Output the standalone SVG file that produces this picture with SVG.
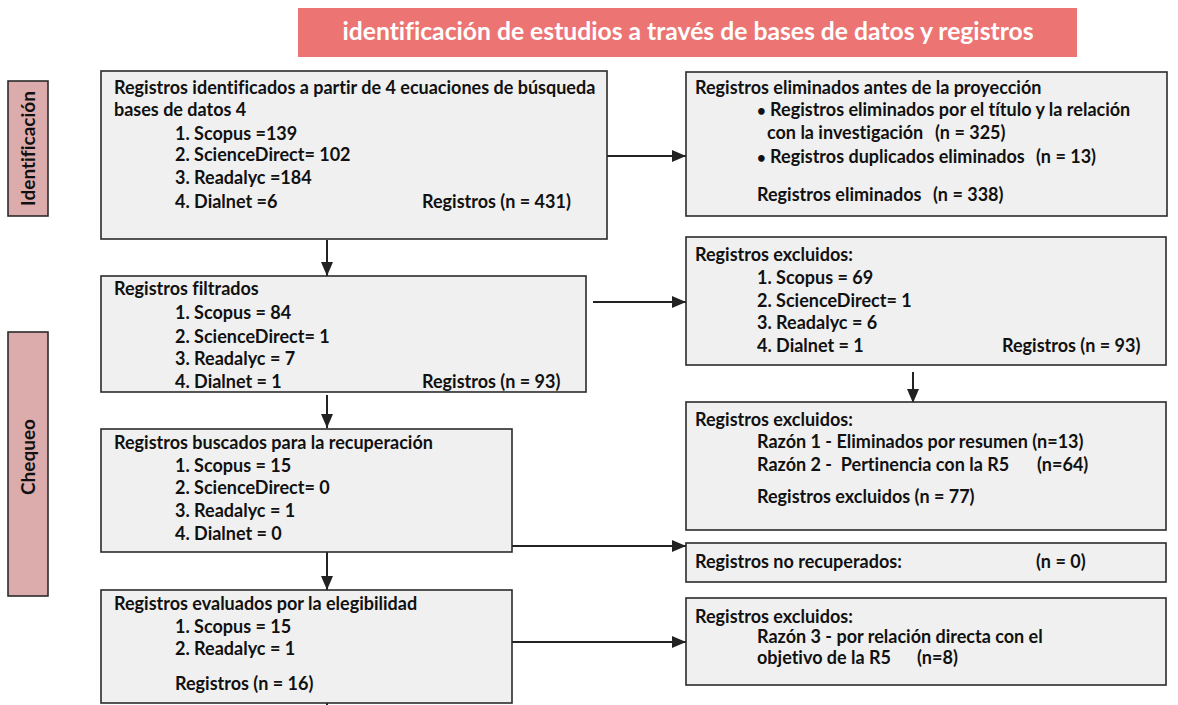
<svg xmlns="http://www.w3.org/2000/svg" width="1178" height="705" viewBox="0 0 1178 705">
<style>
.box{fill:#f0f0f0;stroke:#2b2b2b;stroke-width:1.6}
.t{font-family:Lato,"Open Sans","Liberation Sans",sans-serif;font-weight:700;font-size:18px;fill:#111;font-variant-ligatures:none}
.bl{font-size:15px}
.lab{fill:#dcabab;stroke:#2b2b2b;stroke-width:1.6}
.lt{font-family:Lato,"Open Sans","Liberation Sans",sans-serif;font-weight:700;font-size:19px;fill:#111;font-variant-ligatures:none}
.c{stroke:#222;stroke-width:2;fill:none}
</style>
<defs>
<marker id="a" viewBox="0 0 14 12" refX="14" refY="6" markerWidth="14" markerHeight="12" markerUnits="userSpaceOnUse" orient="auto">
<path d="M0,0 L14,6 L0,12 z" fill="#222"/>
</marker>
</defs>
<g id="title">
<rect x="298" y="8" width="779" height="49" fill="#ec7574"/>
<text x="688" y="40" text-anchor="middle" style="font-family:Lato,'Open Sans','Liberation Sans',sans-serif;font-weight:700;font-size:24.7px;fill:#fff;font-variant-ligatures:none">identificación de estudios a través de bases de datos y registros</text>
</g>
<g id="lab-identificacion">
<rect class="lab" x="8" y="81" width="40" height="135"/>
<text class="lt" transform="translate(34.5,148.5) rotate(-90)" text-anchor="middle">Identificación</text>
</g>
<g id="lab-chequeo">
<rect class="lab" x="8" y="332" width="40" height="264"/>
<text class="lt" transform="translate(34.5,457) rotate(-90)" text-anchor="middle">Chequeo</text>
</g>
<g id="connectors">
<line class="c" x1="607" y1="156" x2="686" y2="156" marker-end="url(#a)"/>
<line class="c" x1="327" y1="240" x2="327" y2="276" marker-end="url(#a)"/>
<line class="c" x1="593" y1="302" x2="686" y2="302" marker-end="url(#a)"/>
<line class="c" x1="913" y1="372" x2="913" y2="403" marker-end="url(#a)"/>
<line class="c" x1="327" y1="395" x2="327" y2="428" marker-end="url(#a)"/>
<line class="c" x1="512" y1="546" x2="686" y2="546" marker-end="url(#a)"/>
<line class="c" x1="327" y1="552" x2="327" y2="590" marker-end="url(#a)"/>
<line class="c" x1="512" y1="642" x2="686" y2="642" marker-end="url(#a)"/>
<line class="c" x1="327" y1="703" x2="327" y2="705"/>
</g>
<g id="n1">
<rect class="box" x="101" y="71" width="506" height="168"/>
<text class="t" x="114" y="94">Registros identificados a partir de 4 ecuaciones de búsqueda</text>
<text class="t" x="114" y="116">bases de datos 4</text>
<text class="t" x="175" y="140">1. Scopus =139</text>
<text class="t" x="175" y="161">2. ScienceDirect= 102</text>
<text class="t" x="175" y="184">3. Readalyc =184</text>
<text class="t" x="175" y="208">4. Dialnet =6</text>
<text class="t" x="422" y="208">Registros (n = 431)</text>
</g>
<g id="n2">
<rect class="box" x="686" y="72" width="481" height="144"/>
<text class="t" x="695" y="94">Registros eliminados antes de la proyección</text>
<text class="t" x="757" y="116"><tspan class="bl">•</tspan> Registros eliminados por el título y la relación</text>
<text class="t" x="767" y="139">con la investigación</text>
<text class="t" x="935" y="139">(n = 325)</text>
<text class="t" x="757" y="163"><tspan class="bl">•</tspan> Registros duplicados eliminados</text>
<text class="t" x="1036" y="163">(n = 13)</text>
<text class="t" x="757" y="201">Registros eliminados</text>
<text class="t" x="933" y="201">(n = 338)</text>
</g>
<g id="n3">
<rect class="box" x="101" y="276" width="485" height="116"/>
<text class="t" x="114" y="295">Registros filtrados</text>
<text class="t" x="175" y="319">1. Scopus = 84</text>
<text class="t" x="175" y="343">2. ScienceDirect= 1</text>
<text class="t" x="175" y="365">3. Readalyc = 7</text>
<text class="t" x="175" y="388">4. Dialnet = 1</text>
<text class="t" x="422" y="388">Registros (n = 93)</text>
</g>
<g id="n4">
<rect class="box" x="686" y="237" width="480" height="128"/>
<text class="t" x="695" y="261">Registros excluidos:</text>
<text class="t" x="757" y="284">1. Scopus = 69</text>
<text class="t" x="757" y="307">2. ScienceDirect= 1</text>
<text class="t" x="757" y="329">3. Readalyc = 6</text>
<text class="t" x="757" y="352">4. Dialnet = 1</text>
<text class="t" x="1002" y="352">Registros (n = 93)</text>
</g>
<g id="n5">
<rect class="box" x="686" y="402" width="480" height="128"/>
<text class="t" x="695" y="426">Registros excluidos:</text>
<text class="t" x="757" y="448">Razón 1 - Eliminados por resumen (n=13)</text>
<text class="t" x="757" y="471" xml:space="preserve">Razón 2 -  Pertinencia con la R5</text>
<text class="t" x="1037" y="471">(n=64)</text>
<text class="t" x="757" y="503">Registros excluidos (n = 77)</text>
</g>
<g id="n6">
<rect class="box" x="101" y="429" width="411" height="123"/>
<text class="t" x="114" y="449">Registros buscados para la recuperación</text>
<text class="t" x="175" y="472">1. Scopus = 15</text>
<text class="t" x="175" y="494">2. ScienceDirect= 0</text>
<text class="t" x="175" y="517">3. Readalyc = 1</text>
<text class="t" x="175" y="540">4. Dialnet = 0</text>
</g>
<g id="n7">
<rect class="box" x="686" y="543" width="480" height="39"/>
<text class="t" x="695" y="568">Registros no recuperados:</text>
<text class="t" x="1036" y="568">(n = 0)</text>
</g>
<g id="n8">
<rect class="box" x="101" y="590" width="411" height="113"/>
<text class="t" x="114" y="610">Registros evaluados por la elegibilidad</text>
<text class="t" x="175" y="633">1. Scopus = 15</text>
<text class="t" x="175" y="655">2. Readalyc = 1</text>
<text class="t" x="175" y="690">Registros (n = 16)</text>
</g>
<g id="n9">
<rect class="box" x="686" y="598" width="480" height="87"/>
<text class="t" x="695" y="623">Registros excluidos:</text>
<text class="t" x="757" y="643">Razón 3 - por relación directa con el</text>
<text class="t" x="757" y="664">objetivo de la R5</text>
<text class="t" x="917" y="664">(n=8)</text>
</g>
</svg>
